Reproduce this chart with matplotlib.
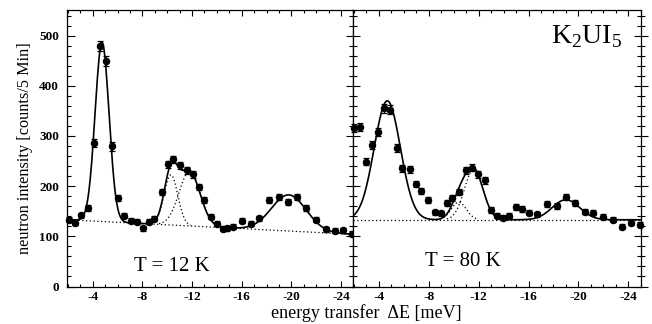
import numpy as np
import matplotlib
matplotlib.use('Agg')
import matplotlib.pyplot as plt
from matplotlib.ticker import MultipleLocator

plt.rcParams['font.family'] = ['Liberation Serif', 'DejaVu Serif']
plt.rcParams['axes.unicode_minus'] = False
plt.rcParams['mathtext.fontset'] = 'custom'
plt.rcParams['mathtext.rm'] = 'Liberation Serif'

# ---------------- data: T = 12 K ----------------
x12 = [-2.08, -2.54, -3.02, -3.60, -4.09, -4.55, -5.03, -5.57, -6.05, -6.55,
       -7.09, -7.57, -8.06, -8.56, -8.96, -9.58, -10.03, -10.50, -11.04, -11.59,
       -12.07, -12.58, -13.00, -13.52, -14.05, -14.48, -14.79, -15.33, -16.00, -16.73,
       -17.42, -18.22, -19.03, -19.75, -20.47, -21.17, -21.97, -22.78, -23.50, -24.20,
       -24.85]
y12 = [133, 127, 142, 156, 285, 480, 450, 279, 177, 141,
       131, 129, 116, 129, 135, 188, 244, 254, 242, 232,
       224, 198, 172, 139, 125, 115, 116, 119, 131, 125,
       136, 172, 179, 169, 179, 156, 133, 114, 111, 112,
       105]
e12 = [5, 5, 5, 6, 8, 10, 10, 8, 6, 5,
       5, 5, 5, 5, 5, 6, 7, 7, 7, 7,
       7, 6, 6, 5, 5, 5, 5, 5, 5, 5,
       5, 6, 6, 6, 6, 6, 5, 5, 5, 5,
       5]
# fit parameters (Gaussian components + linear background)
bg12_at2 = 133.0
bg12_slope = 1.26      # counts per meV, decreasing with |dE|
c12 = [-4.75, -10.3, -11.8, -19.8]
a12 = [357, 100, 108, 72]
s12 = [0.56, 0.55, 0.85, 1.4]

# ---------------- data: T = 80 K ----------------
x80 = [-2.00, -2.47, -3.00, -3.46, -3.94, -4.39, -4.88, -5.41, -5.87, -6.46,
       -6.94, -7.40, -7.93, -8.47, -8.95, -9.43, -9.89, -10.42, -10.96, -11.44,
       -11.98, -12.48, -12.96, -13.45, -13.95, -14.43, -14.97, -15.50, -16.04, -16.71,
       -17.52, -18.26, -18.99, -19.73, -20.51, -21.21, -22.00, -22.74, -23.49, -24.20,
       -24.96]
y80 = [316, 318, 249, 282, 307, 355, 352, 276, 236, 234,
       204, 190, 173, 148, 146, 166, 177, 189, 232, 237,
       224, 212, 153, 141, 137, 141, 159, 154, 147, 144,
       165, 160, 179, 166, 149, 147, 139, 133, 119, 127,
       123]
e80 = [8, 8, 7, 8, 8, 9, 9, 8, 7, 7,
       6, 6, 6, 5, 5, 6, 6, 6, 7, 7,
       7, 7, 6, 5, 5, 5, 6, 6, 5, 5,
       6, 6, 6, 6, 5, 5, 5, 5, 5, 5,
       5]
bg80 = 133.0
c80 = [-4.67, -10.4, -11.6, -19.0]
a80 = [237, 35, 100, 40]
s80 = [1.05, 0.6, 0.75, 1.1]

xticks = [-4, -8, -12, -16, -20, -24]
yticks = [0, 100, 200, 300, 400, 500]
xlim = (-1.95, -25.0)
ylim = (0, 552)

W, H = 652, 324
fig = plt.figure(figsize=(W / 100, H / 100), dpi=100)
L, R, D, T_, B = 67.3, 640.7, 353.4, 9.5, 286.5
ax1 = fig.add_axes([L / W, 1 - B / H, (D - L) / W, (B - T_) / H])
ax2 = fig.add_axes([D / W, 1 - B / H, (R - D) / W, (B - T_) / H])

def gauss(x, c, a, s):
    return a * np.exp(-(x - c) ** 2 / (2 * s ** 2))

def draw(ax, x, y, e, bgfun, cs, amps, sigs):
    xf = np.linspace(xlim[0], xlim[1], 600)
    bg = bgfun(xf)
    total = bg.copy()
    for c, a, s in zip(cs, amps, sigs):
        total += gauss(xf, c, a, s)
    ax.plot(xf, bg, ls=(0, (1, 2)), color='black', lw=0.9)
    for c, a, s in zip(cs[1:3], amps[1:3], sigs[1:3]):
        comp = bg + gauss(xf, c, a, s)
        m = comp - bg > 1.5
        ax.plot(xf[m], comp[m], ls=(0, (1, 2)), color='black', lw=0.9)
    ax.plot(xf, total, color='black', lw=1.2)
    ax.errorbar(x, y, yerr=e, fmt='o', color='black', ms=4.4, capsize=2,
                elinewidth=0.9, capthick=0.9, clip_on=False, zorder=5)

draw(ax1, x12, y12, e12, lambda xx: bg12_at2 - bg12_slope * (-xx - 2.0),
     c12, a12, s12)
draw(ax2, x80, y80, e80, lambda xx: np.full_like(xx, bg80),
     c80, a80, s80)

for ax in (ax1, ax2):
    ax.set_xlim(*xlim)
    ax.set_ylim(*ylim)
    ax.set_xticks(xticks)
    ax.set_xticklabels([str(t) for t in xticks])
    ax.xaxis.set_minor_locator(MultipleLocator(1))
    ax.yaxis.set_major_locator(MultipleLocator(100))
    ax.yaxis.set_minor_locator(MultipleLocator(20))
    for sp in ax.spines.values():
        sp.set_linewidth(0.9)
    ax.tick_params(axis='x', which='both', direction='in', top=True, bottom=True,
                   width=0.8, labelsize=9.5, pad=3.5)
    ax.tick_params(axis='x', which='major', length=4.3)
    ax.tick_params(axis='x', which='minor', length=2.2)
    for lab in ax.get_xticklabels():
        lab.set_fontweight('bold')

ax1.tick_params(axis='y', which='both', direction='in', left=True, right=False,
                width=0.8, labelsize=9.5, pad=6)
ax1.tick_params(axis='y', which='major', length=5.5)
ax1.tick_params(axis='y', which='minor', length=2.8)
ax1.set_yticks(yticks)
for lab in ax1.get_yticklabels():
    lab.set_fontweight('bold')

ax2.tick_params(axis='y', which='both', direction='inout', left=True, right=True,
                labelleft=False, width=0.8)
ax2.tick_params(axis='y', which='major', length=10)
ax2.tick_params(axis='y', which='minor', length=5.5)

ax1.text(-10.4, 39, 'T = 12 K', ha='center', va='center', fontsize=15)
ax2.text(-10.7, 50, 'T = 80 K', ha='center', va='center', fontsize=15)
ax2.text(-17.8, 485, r'K$_\mathrm{2}$UI$_\mathrm{5}$', ha='left', va='baseline',
         fontsize=20)

fig.text(25 / W, 1 - 148 / H, 'neutron intensity [counts/5 Min]', rotation=90,
         ha='center', va='center', fontsize=11.7)
fig.text(366 / W, 2 / H, 'energy transfer  \u0394E [meV]', ha='center',
         va='bottom', fontsize=13)

fig.savefig('out.png', dpi=100)
